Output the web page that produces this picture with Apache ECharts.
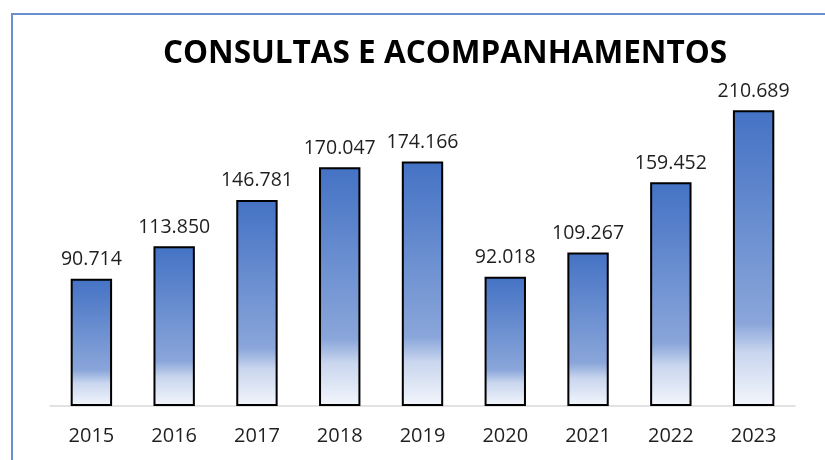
<!DOCTYPE html>
<html>
<head>
<meta charset="utf-8">
<script src="https://cdn.jsdelivr.net/npm/echarts@6/dist/echarts.min.js"></script>
<style>
    body { margin: 0; background: #fff; }
    .wrap { position: relative; width: 825px; height: 460px; }
    .frame {
        position: absolute; left: 11px; top: 13px; right: 0; bottom: 0;
        border-top: 2px solid #6a8fcf; border-left: 2px solid #6a8fcf;
        pointer-events: none;
    }
    #chart { width: 825px; height: 460px; }
</style>
</head>
<body>
<div class="wrap">
    <div id="chart"></div>
    <div class="frame"></div>
</div>
<script>
// anos e totais
const years = ['2015', '2016', '2017', '2018', '2019', '2020', '2021', '2022', '2023'];
const totals = [90714, 113850, 146781, 170047, 174166, 92018, 109267, 159452, 210689];

const fmt = (v) => (v / 1000).toFixed(3);

const chart = echarts.init(document.getElementById('chart'));

const barColor = new echarts.graphic.LinearGradient(0, 0, 0, 1, [
    { offset: 0, color: '#4472c4' },
    { offset: 0.72, color: '#8aa6da' },
    { offset: 0.82, color: '#c9d6ee' },
    { offset: 1, color: '#f3f6fc' }
]);

const option = {
    animation: false,
    title: {
        text: 'CONSULTAS E ACOMPANHAMENTOS',
        left: 440,
        top: 33,
        textAlign: 'center',
        textStyle: {
            fontFamily: 'Open Sans',
            fontWeight: 'bold',
            fontSize: 31.5,
            color: '#000'
        }
    },
    grid: {
        left: 50,
        right: 30,
        top: 55,
        bottom: 54
    },
    xAxis: {
        type: 'category',
        data: years,
        axisLine: { lineStyle: { color: '#d9d9d9', width: 1.5 } },
        axisTick: { show: false },
        axisLabel: {
            margin: 20,
            fontFamily: 'Open Sans',
            fontSize: 20,
            color: '#1f1f1f'
        }
    },
    yAxis: {
        type: 'value',
        min: 0,
        max: 250000,
        show: false,
        splitLine: { show: false }
    },
    series: [{
        type: 'bar',
        data: totals,
        barWidth: '50%',
        itemStyle: {
            color: barColor,
            borderColor: '#000',
            borderWidth: 2
        },
        label: {
            show: true,
            position: 'top',
            distance: 9,
            fontFamily: 'Open Sans',
            fontSize: 19.5,
            color: '#1f1f1f',
            formatter: (p) => fmt(p.value)
        }
    }]
};

chart.setOption(option);
</script>
</body>
</html>
